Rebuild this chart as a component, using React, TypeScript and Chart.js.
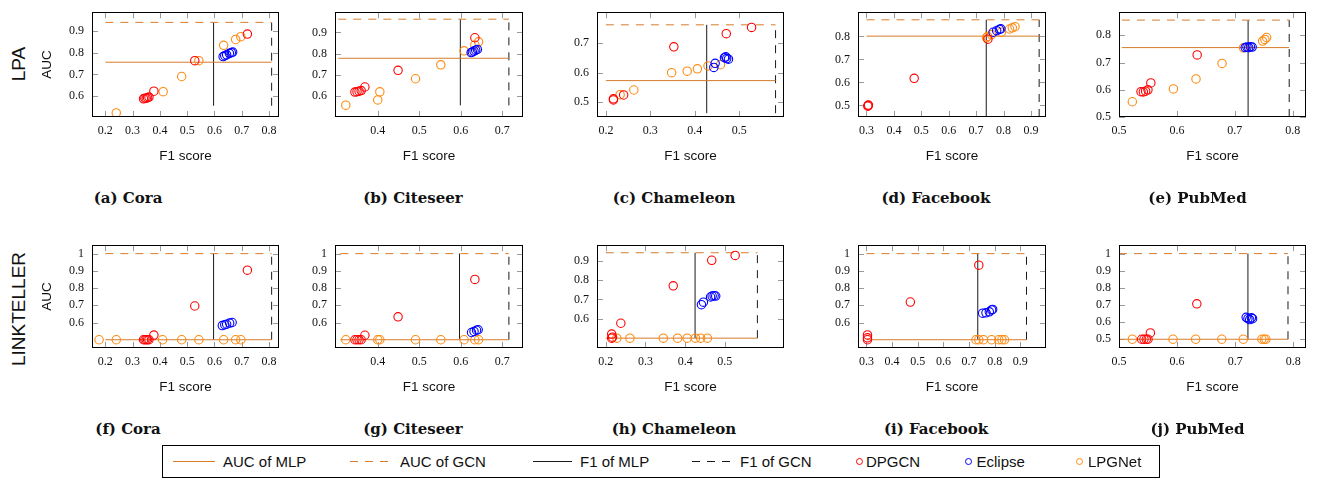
import React, { useEffect, useRef } from "react";
import { Chart, registerables } from "chart.js";

Chart.register(...registerables);

type P = [number, number];

// ---- data: [F1 score, AUC] pairs ----
// (a) Cora – LPA
const coraLpaDPGCN: P[] = [[0.34, 0.587], [0.345, 0.59], [0.35, 0.59], [0.355, 0.592], [0.36, 0.595], [0.378, 0.622], [0.528, 0.763], [0.721, 0.886]];
const coraLpaEclipse: P[] = [[0.632, 0.782], [0.638, 0.786], [0.645, 0.79], [0.655, 0.797], [0.662, 0.8], [0.667, 0.803]];
const coraLpaLPGNet: P[] = [[0.24, 0.522], [0.412, 0.62], [0.48, 0.69], [0.543, 0.763], [0.634, 0.834], [0.678, 0.861], [0.697, 0.874]];
// (b) Citeseer – LPA
const citeLpaDPGCN: P[] = [[0.345, 0.618], [0.35, 0.62], [0.355, 0.622], [0.36, 0.625], [0.369, 0.642], [0.449, 0.721], [0.634, 0.875]];
const citeLpaEclipse: P[] = [[0.625, 0.805], [0.628, 0.808], [0.632, 0.812], [0.636, 0.816], [0.64, 0.82]];
const citeLpaLPGNet: P[] = [[0.323, 0.556], [0.4, 0.581], [0.405, 0.619], [0.491, 0.681], [0.552, 0.747], [0.608, 0.813], [0.634, 0.841], [0.643, 0.856]];
// (c) Chameleon – LPA
const chamLpaDPGCN: P[] = [[0.217, 0.507], [0.217, 0.511], [0.24, 0.524], [0.353, 0.688], [0.471, 0.733], [0.528, 0.754]];
const chamLpaEclipse: P[] = [[0.443, 0.618], [0.446, 0.632], [0.467, 0.651], [0.47, 0.654], [0.472, 0.648], [0.476, 0.646]];
const chamLpaLPGNet: P[] = [[0.232, 0.525], [0.263, 0.541], [0.348, 0.6], [0.383, 0.605], [0.406, 0.613], [0.43, 0.623], [0.458, 0.627]];
// (d) Facebook – LPA
const fbLpaDPGCN: P[] = [[0.305, 0.497], [0.306, 0.5], [0.307, 0.502], [0.474, 0.618], [0.743, 0.788]];
const fbLpaEclipse: P[] = [[0.762, 0.818], [0.775, 0.825], [0.785, 0.83], [0.79, 0.833]];
const fbLpaLPGNet: P[] = [[0.738, 0.795], [0.742, 0.8], [0.756, 0.808], [0.792, 0.818], [0.822, 0.832], [0.832, 0.837], [0.842, 0.842]];
// (e) PubMed – LPA
const pubLpaDPGCN: P[] = [[0.538, 0.593], [0.542, 0.592], [0.546, 0.595], [0.55, 0.6], [0.555, 0.625], [0.635, 0.728]];
const pubLpaEclipse: P[] = [[0.718, 0.755], [0.721, 0.757], [0.724, 0.755], [0.727, 0.758], [0.73, 0.757]];
const pubLpaLPGNet: P[] = [[0.523, 0.556], [0.594, 0.603], [0.633, 0.64], [0.678, 0.697], [0.715, 0.754], [0.748, 0.779], [0.752, 0.785], [0.755, 0.792]];
// (f) Cora – LinkTeller
const coraLtDPGCN: P[] = [[0.34, 0.5], [0.345, 0.5], [0.35, 0.5], [0.355, 0.5], [0.36, 0.5], [0.378, 0.527], [0.528, 0.696], [0.721, 0.904]];
const coraLtEclipse: P[] = [[0.629, 0.582], [0.638, 0.587], [0.645, 0.59], [0.656, 0.597], [0.665, 0.6]];
const coraLtLPGNet: P[] = [[0.177, 0.5], [0.24, 0.5], [0.41, 0.5], [0.48, 0.5], [0.543, 0.5], [0.634, 0.5], [0.678, 0.5], [0.697, 0.5]];
// (g) Citeseer – LinkTeller
const citeLtDPGCN: P[] = [[0.345, 0.5], [0.35, 0.5], [0.355, 0.5], [0.36, 0.5], [0.369, 0.526], [0.449, 0.633], [0.634, 0.85]];
const citeLtEclipse: P[] = [[0.626, 0.542], [0.632, 0.548], [0.638, 0.555], [0.642, 0.558]];
const citeLtLPGNet: P[] = [[0.323, 0.5], [0.4, 0.5], [0.405, 0.5], [0.491, 0.5], [0.552, 0.5], [0.608, 0.5], [0.634, 0.5], [0.643, 0.5]];
// (h) Chameleon – LinkTeller
const chamLtDPGCN: P[] = [[0.215, 0.5], [0.215, 0.521], [0.217, 0.505], [0.238, 0.577], [0.37, 0.771], [0.467, 0.903], [0.526, 0.928]];
const chamLtEclipse: P[] = [[0.441, 0.673], [0.446, 0.686], [0.464, 0.713], [0.468, 0.718], [0.473, 0.72], [0.477, 0.718]];
const chamLtLPGNet: P[] = [[0.228, 0.5], [0.261, 0.5], [0.345, 0.5], [0.381, 0.5], [0.405, 0.5], [0.426, 0.5], [0.439, 0.5], [0.456, 0.5]];
// (i) Facebook – LinkTeller
const fbLtDPGCN: P[] = [[0.304, 0.5], [0.304, 0.511], [0.304, 0.528], [0.471, 0.719], [0.738, 0.933]];
const fbLtEclipse: P[] = [[0.753, 0.654], [0.766, 0.656], [0.779, 0.662], [0.788, 0.673], [0.792, 0.676]];
const fbLtLPGNet: P[] = [[0.727, 0.5], [0.738, 0.5], [0.756, 0.5], [0.788, 0.5], [0.816, 0.5], [0.828, 0.5], [0.838, 0.5]];
// (j) PubMed – LinkTeller
const pubLtDPGCN: P[] = [[0.539, 0.5], [0.543, 0.5], [0.547, 0.5], [0.55, 0.5], [0.554, 0.537], [0.634, 0.707]];
const pubLtEclipse: P[] = [[0.719, 0.628], [0.722, 0.62], [0.725, 0.615], [0.728, 0.625], [0.73, 0.62]];
const pubLtLPGNet: P[] = [[0.523, 0.5], [0.593, 0.5], [0.632, 0.5], [0.677, 0.5], [0.714, 0.5], [0.746, 0.5], [0.75, 0.5], [0.753, 0.5]];

const dpgcnSeries = [coraLpaDPGCN, citeLpaDPGCN, chamLpaDPGCN, fbLpaDPGCN, pubLpaDPGCN, coraLtDPGCN, citeLtDPGCN, chamLtDPGCN, fbLtDPGCN, pubLtDPGCN];
const eclipseSeries = [coraLpaEclipse, citeLpaEclipse, chamLpaEclipse, fbLpaEclipse, pubLpaEclipse, coraLtEclipse, citeLtEclipse, chamLtEclipse, fbLtEclipse, pubLtEclipse];
const lpgnetSeries = [coraLpaLPGNet, citeLpaLPGNet, chamLpaLPGNet, fbLpaLPGNet, pubLpaLPGNet, coraLtLPGNet, citeLtLPGNet, chamLtLPGNet, fbLtLPGNet, pubLtLPGNet];

// reference lines (panel order a..j)
const aucMLP = [0.756, 0.778, 0.573, 0.801, 0.755, 0.5, 0.5, 0.5, 0.5, 0.5];
const aucGCN = [0.94, 0.963, 0.763, 0.872, 0.856, 1, 1, 0.942, 1, 1];
const f1MLP = [0.597, 0.599, 0.427, 0.737, 0.723, 0.597, 0.597, 0.425, 0.734, 0.722];
const f1GCN = [0.81, 0.716, 0.582, 0.93, 0.794, 0.81, 0.716, 0.582, 0.924, 0.791];
const hLineStart = [0.2, 0.305, 0.2, 0.3, 0.505, 0.2, 0.31, 0.2, 0.3, 0.5];
const vLineStart = [0.555, 0.555, 0.462, 0.45, 0.5, 0.5, 0.5, 0.5, 0.5, 0.5];

// axis ranges and ticks
const xMin = [0.151, 0.297, 0.18, 0.269, 0.5, 0.151, 0.297, 0.178, 0.267, 0.5];
const xMax = [0.837, 0.75, 0.601, 0.955, 0.823, 0.837, 0.75, 0.649, 1.0, 0.822];
const yMin = [0.503, 0.5, 0.449, 0.45, 0.5, 0.452, 0.452, 0.449, 0.452, 0.449];
const yMax = [0.987, 0.996, 0.806, 0.905, 0.885, 1.049, 1.049, 0.981, 1.049, 1.049];
const xTicks = [
  [0.2, 0.3, 0.4, 0.5, 0.6, 0.7, 0.8],
  [0.4, 0.5, 0.6, 0.7],
  [0.2, 0.3, 0.4, 0.5],
  [0.3, 0.4, 0.5, 0.6, 0.7, 0.8, 0.9],
  [0.5, 0.6, 0.7, 0.8],
  [0.2, 0.3, 0.4, 0.5, 0.6, 0.7, 0.8],
  [0.4, 0.5, 0.6, 0.7],
  [0.2, 0.3, 0.4, 0.5],
  [0.3, 0.4, 0.5, 0.6, 0.7, 0.8, 0.9],
  [0.5, 0.6, 0.7, 0.8],
];
const yTicks = [
  [0.6, 0.7, 0.8, 0.9],
  [0.6, 0.7, 0.8, 0.9],
  [0.5, 0.6, 0.7],
  [0.5, 0.6, 0.7, 0.8],
  [0.5, 0.6, 0.7, 0.8],
  [0.6, 0.7, 0.8, 0.9, 1],
  [0.6, 0.7, 0.8, 0.9, 1],
  [0.6, 0.7, 0.8, 0.9],
  [0.6, 0.7, 0.8, 0.9, 1],
  [0.5, 0.6, 0.7, 0.8, 0.9, 1],
];

const captions = ["(a) Cora", "(b) Citeseer", "(c) Chameleon", "(d) Facebook", "(e) PubMed", "(f) Cora", "(g) Citeseer", "(h) Chameleon", "(i) Facebook", "(j) PubMed"];
const rowLabels = ["LPA", "LINKTELLER"];
const legendLabels = ["AUC of MLP", "AUC of GCN", "F1 of MLP", "F1 of GCN", "DPGCN", "Eclipse", "LPGNet"];

// ---- layout ----
const COL_L = [92, 335, 597, 858, 1119];
const COL_R = [279, 523, 784, 1046, 1306];
const ROW_T = [5, 238];
const ROW_B = [117, 348];
const CAPTION_X = [128, 413, 674, 936, 1197.5];
const CAPTION_Y = [197.5, 429];
const ROW_LABEL_Y = [63.5, 309];
const Y_AXIS_W = 62;
const X_AXIS_H = 50;
const PAD_T = 8;
const PAD_R = 12;

const RED = "#ff0000";
const BLUE = "#0000ff";
const ORANGE = "#ff8a10";
const LINE_ORANGE = "#d67d2c";
const LINE_BLACK = "#1a1a1a";
const SANS = "'Liberation Sans', Arial, sans-serif";
const SERIF = "'Liberation Serif', 'Times New Roman', serif";

const fmt = (v: number) => (Math.abs(v - 1) < 1e-9 ? "1" : Number(v).toFixed(1));

const framePlugin = {
  id: "pgfFrame",
  beforeDatasetsDraw(chart: any) {
    const { ctx, chartArea } = chart;
    const { left, right, top, bottom } = chartArea;
    const xs = chart.scales.x;
    const ys = chart.scales.y;
    ctx.save();
    ctx.strokeStyle = "#9a9a9a";
    ctx.lineWidth = 1;
    ctx.beginPath();
    xs.ticks.forEach((t: any) => {
      const px = Math.round(xs.getPixelForValue(t.value)) + 0.5;
      ctx.moveTo(px, top);
      ctx.lineTo(px, top + 6);
      ctx.moveTo(px, bottom);
      ctx.lineTo(px, bottom - 6);
    });
    ys.ticks.forEach((t: any) => {
      const py = Math.round(ys.getPixelForValue(t.value)) + 0.5;
      ctx.moveTo(left, py);
      ctx.lineTo(left + 6, py);
      ctx.moveTo(right, py);
      ctx.lineTo(right - 6, py);
    });
    ctx.stroke();
    ctx.restore();
  },
  afterDatasetsDraw(chart: any) {
    const { ctx, chartArea } = chart;
    const { left, right, top, bottom } = chartArea;
    ctx.save();
    ctx.strokeStyle = "#000";
    ctx.lineWidth = 1;
    ctx.strokeRect(Math.round(left) + 0.5, Math.round(top) + 0.5, Math.round(right - left) - 1, Math.round(bottom - top) - 1);
    ctx.restore();
  },
};

const toPts = (arr: P[]) => arr.map(([x, y]) => ({ x, y }));

function Panel({ index }: { index: number }) {
  const ref = useRef<HTMLCanvasElement | null>(null);
  const col = index % 5;
  const row = Math.floor(index / 5);
  const L = COL_L[col];
  const R = COL_R[col];
  const T = ROW_T[row];
  const B = ROW_B[row];
  const w = R - L + Y_AXIS_W + PAD_R;
  const h = B - T + PAD_T + X_AXIS_H;

  useEffect(() => {
    if (!ref.current) return;
    const scatterStyle = (color: string) => ({
      showLine: false,
      pointRadius: 4.2,
      pointBorderWidth: 1.1,
      pointBackgroundColor: "rgba(0,0,0,0)",
      pointBorderColor: color,
      borderColor: color,
      backgroundColor: "rgba(0,0,0,0)",
    });
    const lineStyle = (color: string, dash: number[]) => ({
      showLine: true,
      pointRadius: 0,
      borderWidth: 1,
      borderColor: color,
      borderDash: dash,
      fill: false,
      tension: 0,
    });
    const chart = new Chart(ref.current, {
      type: "scatter",
      data: {
        datasets: [
          { label: "DPGCN", data: toPts(dpgcnSeries[index]), ...scatterStyle(RED) },
          { label: "Eclipse", data: toPts(eclipseSeries[index]), ...scatterStyle(BLUE) },
          { label: "LPGNet", data: toPts(lpgnetSeries[index]), ...scatterStyle(ORANGE) },
          {
            label: "AUC of MLP",
            data: [{ x: hLineStart[index], y: aucMLP[index] }, { x: f1GCN[index], y: aucMLP[index] }],
            ...lineStyle(LINE_ORANGE, []),
          },
          {
            label: "AUC of GCN",
            data: [{ x: hLineStart[index], y: aucGCN[index] }, { x: f1GCN[index], y: aucGCN[index] }],
            ...lineStyle(LINE_ORANGE, [8, 7]),
          },
          {
            label: "F1 of MLP",
            data: [{ x: f1MLP[index], y: vLineStart[index] }, { x: f1MLP[index], y: aucGCN[index] }],
            ...lineStyle(LINE_BLACK, []),
          },
          {
            label: "F1 of GCN",
            data: [{ x: f1GCN[index], y: vLineStart[index] }, { x: f1GCN[index], y: aucGCN[index] }],
            ...lineStyle(LINE_BLACK, [8, 7]),
          },
        ],
      } as any,
      options: {
        animation: false,
        responsive: false,
        maintainAspectRatio: false,
        devicePixelRatio: 1,
        layout: { padding: { left: 0, top: PAD_T, right: PAD_R, bottom: 0 } },
        plugins: { legend: { display: false }, tooltip: { enabled: false } },
        scales: {
          x: {
            type: "linear",
            min: xMin[index],
            max: xMax[index],
            afterFit: (s: any) => {
              s.height = X_AXIS_H;
            },
            afterBuildTicks: (s: any) => {
              s.ticks = xTicks[index].map((v) => ({ value: v }));
            },
            grid: { display: false, drawTicks: false },
            border: { display: false },
            ticks: {
              padding: 6.5,
              autoSkip: false,
              maxRotation: 0,
              color: "#111",
              font: { family: SERIF, size: 12 },
              callback: (v: any) => fmt(Number(v)),
            },
            title: {
              display: true,
              text: "F1 score",
              color: "#111",
              font: { family: SANS, size: 13.5 },
              padding: { top: 0, bottom: 2.4 },
            },
          },
          y: {
            type: "linear",
            min: yMin[index],
            max: yMax[index],
            afterFit: (s: any) => {
              s.width = Y_AXIS_W;
            },
            afterBuildTicks: (s: any) => {
              s.ticks = yTicks[index].map((v) => ({ value: v }));
            },
            grid: { display: false, drawTicks: false },
            border: { display: false },
            ticks: {
              padding: 8,
              autoSkip: false,
              color: "#111",
              font: { family: SERIF, size: 12 },
              callback: (v: any) => fmt(Number(v)),
            },
            title: {
              display: col === 0,
              text: "AUC",
              color: "#111",
              font: { family: SANS, size: 13.5 },
              padding: { top: 9.4, bottom: 0 },
            },
          },
        },
      } as any,
      plugins: [framePlugin],
    });
    return () => chart.destroy();
  }, [index]);

  return (
    <canvas
      ref={ref}
      width={w}
      height={h}
      style={{ position: "absolute", left: L - Y_AXIS_W, top: T - PAD_T, width: w, height: h }}
    />
  );
}

function LegendLine({ x, w, color, dashed }: { x: number; w: number; color: string; dashed: boolean }) {
  return (
    <div
      style={{
        position: "absolute",
        left: x,
        top: 460.5,
        width: w,
        height: 1.2,
        background: dashed ? `repeating-linear-gradient(to right, ${color} 0px, ${color} 8px, transparent 8px, transparent 15px)` : color,
      }}
    />
  );
}

function LegendMarker({ cx, color }: { cx: number; color: string }) {
  return (
    <div
      style={{
        position: "absolute",
        left: cx - 3.5,
        top: 457.5,
        width: 5.6,
        height: 5.6,
        border: `1.1px solid ${color}`,
        borderRadius: "50%",
      }}
    />
  );
}

function LegendText({ x, text }: { x: number; text: string }) {
  return (
    <div
      style={{
        position: "absolute",
        left: x,
        top: 461,
        transform: "translateY(-50%)",
        fontFamily: SANS,
        fontSize: 15,
        lineHeight: 1,
        color: "#111",
        whiteSpace: "nowrap",
      }}
    >
      {text}
    </div>
  );
}

export default function App() {
  const panelsIdx = [0, 1, 2, 3, 4, 5, 6, 7, 8, 9];
  return (
    <div
      style={{
        position: "fixed",
        left: 0,
        top: 0,
        width: 1320,
        height: 480,
        background: "#fff",
        overflow: "hidden",
      }}
    >
      {panelsIdx.map((i) => (
        <Panel key={i} index={i} />
      ))}
      {rowLabels.map((t, r) => (
        <div
          key={t}
          style={{
            position: "absolute",
            left: 17.5,
            top: ROW_LABEL_Y[r],
            transform: "translate(-50%, -50%) rotate(-90deg)",
            fontFamily: SANS,
            fontSize: 19,
            lineHeight: 1,
            color: "#111",
            whiteSpace: "nowrap",
          }}
        >
          {t}
        </div>
      ))}
      {captions.map((c, i) => (
        <div
          key={c + i}
          style={{
            position: "absolute",
            left: CAPTION_X[i % 5],
            top: CAPTION_Y[Math.floor(i / 5)],
            transform: "translate(-50%, -50%)",
            fontFamily: "'DejaVu Serif', serif",
            fontWeight: "bold",
            fontSize: 15,
            lineHeight: 1,
            color: "#111",
            whiteSpace: "nowrap",
          }}
        >
          {c}
        </div>
      ))}
      <div
        style={{
          position: "absolute",
          left: 162,
          top: 445,
          width: 998,
          height: 33,
          border: "1px solid #000",
          boxSizing: "border-box",
        }}
      />
      <LegendLine x={173} w={42} color={LINE_ORANGE} dashed={false} />
      <LegendText x={223} text={legendLabels[0]} />
      <LegendLine x={350} w={40} color={LINE_ORANGE} dashed={true} />
      <LegendText x={400} text={legendLabels[1]} />
      <LegendLine x={533} w={39} color={LINE_BLACK} dashed={false} />
      <LegendText x={580} text={legendLabels[2]} />
      <LegendLine x={692} w={40} color={LINE_BLACK} dashed={true} />
      <LegendText x={740} text={legendLabels[3]} />
      <LegendMarker cx={859} color={RED} />
      <LegendText x={866} text={legendLabels[4]} />
      <LegendMarker cx={968} color={BLUE} />
      <LegendText x={976.5} text={legendLabels[5]} />
      <LegendMarker cx={1079} color={ORANGE} />
      <LegendText x={1088} text={legendLabels[6]} />
    </div>
  );
}
